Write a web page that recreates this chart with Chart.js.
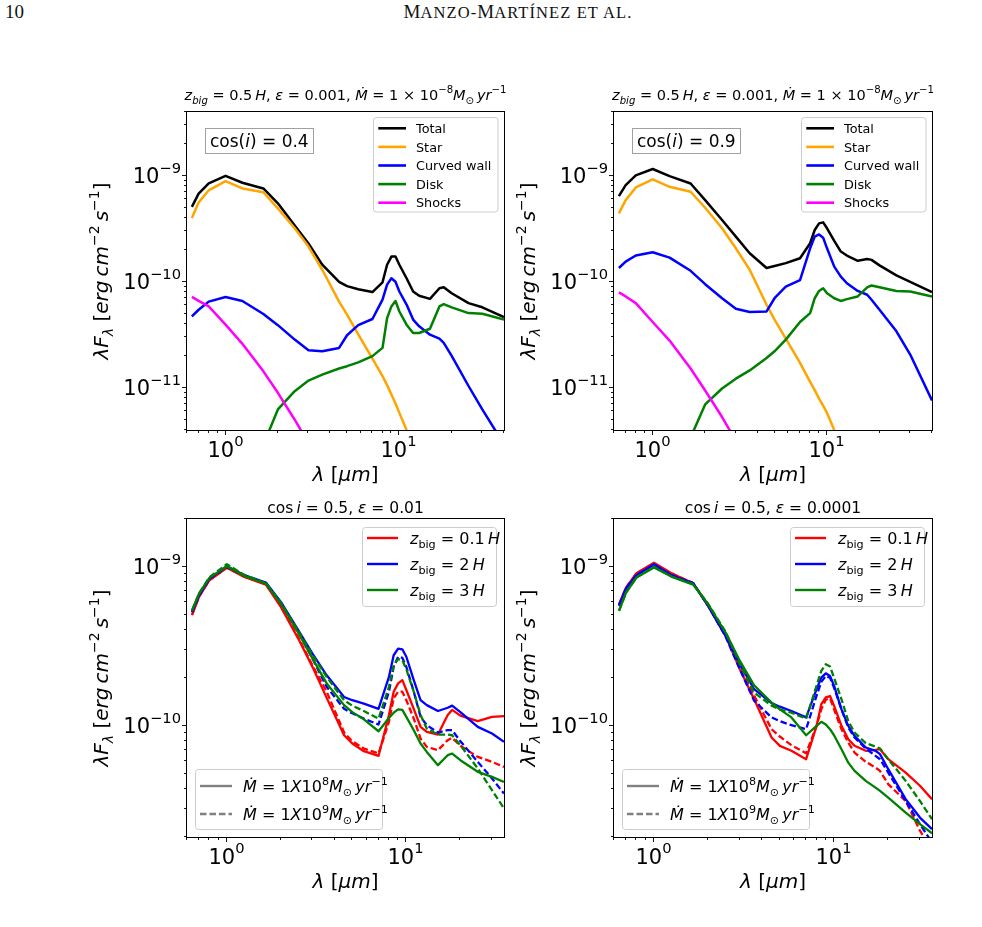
<!doctype html>
<html>
<head>
<meta charset="utf-8">
<script src="https://cdn.jsdelivr.net/npm/chart.js@4.4.1/dist/chart.umd.min.js"></script>
<style>
  body { margin: 0; background: #fff; width: 982px; height: 927px; position: relative; overflow: hidden; }
  canvas { position: absolute; }
  .hdr { position: absolute; top: 1px; font-family: "Liberation Serif", "DejaVu Serif", serif; font-size: 19px; color: #111; }
  .sc { font-size: 16.5px; letter-spacing: 1.1px; }
</style>
</head>
<body>
<div class="hdr" style="left:5px">10</div>
<div class="hdr" style="left:0;width:1036px;text-align:center">M<span class="sc">ANZO-</span>M<span class="sc">ARTÍNEZ ET AL.</span></div>
<canvas id="tl"></canvas>
<canvas id="tr"></canvas>
<canvas id="bl"></canvas>
<canvas id="br"></canvas>
<script>
// wavelengths (micron)
const lamTop = [0.64, 0.7, 0.8, 1.0, 1.25, 1.65, 2.0, 2.5, 3.0, 3.6, 4.5, 5.0, 5.8, 7.0, 8.0, 8.5, 9.0, 9.5, 10, 11, 12, 13, 15, 17, 18, 20, 25, 30, 40];
const lamBot = [0.64, 0.7, 0.8, 1.0, 1.25, 1.65, 2.0, 2.5, 3.0, 3.6, 4.5, 5.0, 5.8, 7.0, 8.0, 8.5, 9.0, 9.5, 10, 11, 12, 13, 15, 17, 18, 20, 25, 30, 35];

// top left, cos(i)=0.4
const tlTotal = [5.1e-10, 6.8e-10, 8.5e-10, 1.0e-9, 8.6e-10, 7.6e-10, 5.5e-10, 3.4e-10, 2.3e-10, 1.45e-10, 1.0e-10, 9.1e-11, 8.5e-11, 8.0e-11, 9.9e-11, 1.45e-10, 1.73e-10, 1.73e-10, 1.45e-10, 1.08e-10, 8.1e-11, 7.4e-11, 6.9e-11, 8.7e-11, 8.9e-11, 7.8e-11, 6.3e-11, 5.75e-11, 4.65e-11];
const tlStar = [4.0e-10, 5.6e-10, 7.3e-10, 8.9e-10, 7.6e-10, 7.0e-10, 4.93e-10, 3.2e-10, 2.15e-10, 1.3e-10, 6.5e-11, 4.9e-11, 3.2e-11, 1.89e-11, 1.29e-11, 1.06e-11, 8.65e-12, 7.1e-12, 5.8e-12, 4.0e-12, 3.0e-12, 2.4e-12, 1.5e-12, 1.0e-12, 8.5e-13, 6.5e-13, 3.5e-13, 2.0e-13, 8e-14];
const tlWall = [4.72e-11, 5.45e-11, 6.5e-11, 7.2e-11, 6.6e-11, 4.97e-11, 3.9e-11, 2.85e-11, 2.26e-11, 2.21e-11, 2.38e-11, 3.13e-11, 3.9e-11, 4.46e-11, 6.8e-11, 9.4e-11, 1.08e-10, 1.0e-10, 8.1e-11, 6.1e-11, 4.4e-11, 3.8e-11, 3.17e-11, 2.91e-11, 2.65e-11, 2.0e-11, 1.04e-11, 6.25e-12, 2.93e-12];
const tlDisk = [null, null, null, null, null, 2.9e-12, 6.25e-12, 9.3e-12, 1.17e-11, 1.33e-11, 1.52e-11, 1.6e-11, 1.74e-11, 1.99e-11, 2.38e-11, 4.55e-11, 5.86e-11, 6.6e-11, 5.25e-11, 3.94e-11, 3.29e-11, 3.29e-11, 3.61e-11, 5.86e-11, 6.16e-11, 5.74e-11, 5.07e-11, 5.0e-11, 4.4e-11];
const tlShocks = [7.2e-11, 6.6e-11, 5.86e-11, 3.94e-11, 2.6e-11, 1.43e-11, 8.97e-12, 5.0e-12, 3.0e-12, 1.6e-12];

// top right, cos(i)=0.9
const trTotal = [6.44e-10, 8.17e-10, 1.01e-9, 1.16e-9, 9.93e-10, 8.47e-10, 5.9e-10, 3.83e-10, 2.67e-10, 1.86e-10, 1.35e-10, 1.41e-10, 1.5e-10, 1.67e-10, 2.31e-10, 3.08e-10, 3.56e-10, 3.64e-10, 3.2e-10, 2.43e-10, 1.93e-10, 1.77e-10, 1.58e-10, 1.64e-10, 1.61e-10, 1.43e-10, 1.15e-10, 1.0e-10, 8.0e-11];
const trStar = [4.42e-10, 5.9e-10, 7.77e-10, 9.24e-10, 7.88e-10, 7.07e-10, 5.0e-10, 3.2e-10, 2.07e-10, 1.3e-10, 6.08e-11, 4.4e-11, 2.91e-11, 1.72e-11, 1.14e-11, 9.5e-12, 7.9e-12, 6.8e-12, 5.8e-12, 4.0e-12, 3.0e-12, 2.4e-12, 1.5e-12, 1.0e-12, 8.5e-13, 6.5e-13, 3.5e-13, 2.0e-13, 8e-14];
const trWall = [1.35e-10, 1.55e-10, 1.77e-10, 1.9e-10, 1.69e-10, 1.27e-10, 9.5e-11, 7.0e-11, 5.57e-11, 5.19e-11, 5.26e-11, 7.0e-11, 9.0e-11, 1.04e-10, 2.07e-10, 2.67e-10, 2.8e-10, 2.61e-10, 2.07e-10, 1.39e-10, 1.12e-10, 9.7e-11, 8.2e-11, 7.55e-11, 6.78e-11, 5.46e-11, 3.41e-11, 2.06e-11, 7.6e-12];
const trDisk = [null, null, null, null, null, 3.4e-12, 6.97e-12, 9.86e-12, 1.22e-11, 1.46e-11, 1.91e-11, 2.21e-11, 2.85e-11, 4.18e-11, 5.07e-11, 7.0e-11, 8.2e-11, 8.7e-11, 7.8e-11, 7.0e-11, 6.6e-11, 6.87e-11, 7.28e-11, 8.85e-11, 9.25e-11, 8.9e-11, 8.2e-11, 8.1e-11, 7.28e-11];
const trShocks = [7.94e-11, 7.28e-11, 6.3e-11, 4.18e-11, 2.79e-11, 1.52e-11, 9.44e-12, 5.3e-12, 3.16e-12, 1.7e-12];

// bottom left, eps=0.01 (a = Mdot 1e-8, b = Mdot 1e-9)
const blRedA = [4.97e-10, 6.47e-10, 8.24e-10, 9.86e-10, 8.65e-10, 7.74e-10, 5.6e-10, 3.54e-10, 2.35e-10, 1.5e-10, 8.73e-11, 7.74e-11, 6.93e-11, 6.47e-11, 1.17e-10, 1.64e-10, 1.85e-10, 1.94e-10, 1.68e-10, 1.28e-10, 9.87e-11, 9.17e-11, 8.82e-11, 1.17e-10, 1.26e-10, 1.16e-10, 1.07e-10, 1.14e-10, 1.15e-10];
const blRedB = [5.0e-10, 6.5e-10, 8.3e-10, 9.9e-10, 8.7e-10, 7.8e-10, 5.65e-10, 3.6e-10, 2.4e-10, 1.64e-10, 9.08e-11, 8.01e-11, 7.2e-11, 6.7e-11, 1.06e-10, 1.49e-10, 1.64e-10, 1.64e-10, 1.45e-10, 1.11e-10, 8.32e-11, 7.38e-11, 7.03e-11, 8.13e-11, 8.41e-11, 7.49e-11, 6.38e-11, 5.94e-11, 5.52e-11];
const blBlueA = [5.21e-10, 6.64e-10, 8.45e-10, 1.01e-9, 8.87e-10, 7.97e-10, 6.02e-10, 4.0e-10, 2.85e-10, 2.08e-10, 1.52e-10, 1.45e-10, 1.38e-10, 1.28e-10, 2.03e-10, 2.78e-10, 3.06e-10, 3.03e-10, 2.72e-10, 1.94e-10, 1.45e-10, 1.35e-10, 1.24e-10, 1.3e-10, 1.34e-10, 1.22e-10, 9.86e-11, 8.95e-11, 7.94e-11];
const blBlueB = [5.2e-10, 6.6e-10, 8.4e-10, 1.0e-9, 8.8e-10, 7.9e-10, 5.9e-10, 3.9e-10, 2.65e-10, 1.76e-10, 1.28e-10, 1.2e-10, 1.11e-10, 1.02e-10, 1.64e-10, 2.35e-10, 2.72e-10, 2.68e-10, 2.35e-10, 1.64e-10, 1.14e-10, 1.01e-10, 9.08e-11, 9.39e-11, 9.39e-11, 8.01e-11, 5.94e-11, 4.67e-11, 3.75e-11];
const blGreenA = [5.34e-10, 6.79e-10, 8.53e-10, 1.01e-9, 8.78e-10, 7.85e-10, 5.88e-10, 3.86e-10, 2.65e-10, 1.85e-10, 1.35e-10, 1.22e-10, 1.1e-10, 9.25e-11, 1.12e-10, 1.21e-10, 1.27e-10, 1.26e-10, 1.14e-10, 9.39e-11, 7.74e-11, 6.86e-11, 5.66e-11, 6.54e-11, 6.7e-11, 6.08e-11, 5.14e-11, 4.78e-11, 4.44e-11];
const blGreenB = [5.3e-10, 6.8e-10, 8.6e-10, 1.04e-9, 8.9e-10, 7.9e-10, 5.95e-10, 3.95e-10, 2.8e-10, 2.03e-10, 1.45e-10, 1.34e-10, 1.24e-10, 1.11e-10, 1.76e-10, 2.41e-10, 2.63e-10, 2.59e-10, 2.27e-10, 1.64e-10, 1.17e-10, 9.62e-11, 8.82e-11, 8.82e-11, 8.73e-11, 7.55e-11, 5.4e-11, 3.94e-11, 3.02e-11];

// bottom right, eps=0.0001
const brRedA = [5.82e-10, 7.41e-10, 9.12e-10, 1.06e-9, 9.12e-10, 7.89e-10, 5.69e-10, 3.68e-10, 2.27e-10, 1.47e-10, 8.45e-11, 7.49e-11, 6.97e-11, 6.17e-11, 1.0e-10, 1.37e-10, 1.51e-10, 1.54e-10, 1.34e-10, 1.0e-10, 8.24e-11, 7.49e-11, 6.97e-11, 7.06e-11, 7.13e-11, 6.17e-11, 5.08e-11, 4.2e-11, 3.46e-11];
const brRedB = [5.8e-10, 7.4e-10, 9.1e-10, 1.05e-9, 9.1e-10, 7.9e-10, 5.7e-10, 3.7e-10, 2.3e-10, 1.55e-10, 9.53e-11, 8.57e-11, 7.56e-11, 6.73e-11, 1.0e-10, 1.27e-10, 1.46e-10, 1.49e-10, 1.27e-10, 9.53e-11, 7.85e-11, 6.79e-11, 5.94e-11, 5.47e-11, 5.21e-11, 4.3e-11, 3.37e-11, 2.19e-11, 1.67e-11];
const brBlueA = [5.69e-10, 7.31e-10, 8.86e-10, 1.04e-9, 8.86e-10, 7.89e-10, 5.69e-10, 3.68e-10, 2.44e-10, 1.7e-10, 1.39e-10, 1.32e-10, 1.24e-10, 1.13e-10, 1.7e-10, 2.01e-10, 2.14e-10, 2.06e-10, 1.79e-10, 1.27e-10, 1.0e-10, 8.65e-11, 7.31e-11, 6.97e-11, 6.64e-11, 5.34e-11, 3.46e-11, 2.65e-11, 2.24e-11];
const brBlueB = [5.7e-10, 7.3e-10, 8.9e-10, 1.03e-9, 8.9e-10, 7.9e-10, 5.7e-10, 3.65e-10, 2.27e-10, 1.44e-10, 1.13e-10, 1.07e-10, 1.01e-10, 9.53e-11, 1.55e-10, 1.89e-10, 2.06e-10, 2.01e-10, 1.74e-10, 1.27e-10, 9.77e-11, 8.45e-11, 7.2e-11, 6.47e-11, 6.17e-11, 5.08e-11, 3.37e-11, 2.41e-11, 1.85e-11];
const brGreenA = [5.29e-10, 6.9e-10, 8.57e-10, 9.9e-10, 8.69e-10, 7.74e-10, 5.82e-10, 3.86e-10, 2.56e-10, 1.8e-10, 1.4e-10, 1.27e-10, 1.13e-10, 8.73e-11, 1.0e-10, 1.06e-10, 1.02e-10, 9.53e-11, 8.73e-11, 7.13e-11, 5.87e-11, 5.21e-11, 4.51e-11, 4.09e-11, 3.9e-11, 3.54e-11, 2.85e-11, 2.41e-11, 2.11e-11];
const brGreenB = [5.3e-10, 6.9e-10, 8.6e-10, 1.0e-9, 8.7e-10, 7.8e-10, 5.85e-10, 3.9e-10, 2.44e-10, 1.62e-10, 1.34e-10, 1.27e-10, 1.21e-10, 1.11e-10, 1.79e-10, 2.22e-10, 2.44e-10, 2.36e-10, 2.01e-10, 1.47e-10, 1.07e-10, 9.08e-11, 7.78e-11, 7.41e-11, 7.2e-11, 6.17e-11, 4.51e-11, 3.37e-11, 2.59e-11];

const compNames = ['Total', 'Star', 'Curved wall', 'Disk', 'Shocks'];
const compColors = ['#000000', '#ffa500', '#0000ff', '#008000', '#ff00ff'];
const zbigVals = ['0.1', '2', '3'];
const zbigColors = ['#ff0000', '#0000ff', '#008000'];
const mdotExp = ['8', '9'];

const FAM = '"DejaVu Sans", sans-serif';
const DASH = [6.5, 3];

// draw a run of text pieces: [text, style]; style: i = italic, ^ = sup, _ = sub
function rich(ctx, parts, x, y, size, align, raise) {
  raise = raise || 0.45;
  const items = parts.map(([t, st = '']) => {
    const small = st.includes('^') || st.includes('_');
    const fs = small ? size * 0.7 : size;
    const font = (st.includes('i') ? 'italic ' : '') + fs + 'px ' + FAM;
    ctx.font = font;
    const dy = st.includes('^') ? -size * raise : st.includes('_') ? size * 0.25 : 0;
    return { t, font, dy, w: ctx.measureText(t).width };
  });
  const tw = items.reduce((s, it) => s + it.w, 0);
  let cx = align === 'center' ? x - tw / 2 : align === 'right' ? x - tw : x;
  ctx.textAlign = 'left';
  ctx.textBaseline = 'alphabetic';
  for (const it of items) {
    ctx.font = it.font;
    ctx.fillText(it.t, cx, y + it.dy);
    cx += it.w;
  }
  return tw;
}

function logTicks(min, max) {
  const out = [];
  for (let e = Math.floor(Math.log10(min)); e <= Math.ceil(Math.log10(max)); e++) {
    for (let m = 1; m <= 9; m++) {
      const v = m * Math.pow(10, e);
      if (v >= min * 0.999999 && v <= max * 1.000001) out.push({ v, e, major: m === 1 });
    }
  }
  return out;
}

function pow10(ctx, e, x, y, align) {
  rich(ctx, [['10'], [(e < 0 ? '\u2212' : '') + Math.abs(e), '^']], x, y, 21, align, 0.5);
}

function legendFrame(ctx, x0, y0, w, h) {
  ctx.save();
  ctx.beginPath();
  ctx.roundRect(x0 + 0.5, y0 + 0.5, w, h, 3);
  ctx.fillStyle = 'rgba(255,255,255,0.8)';
  ctx.fill();
  ctx.strokeStyle = '#cccccc';
  ctx.lineWidth = 1;
  ctx.stroke();
  ctx.restore();
}

function sample(ctx, x1, x2, y, color, dash, lw) {
  ctx.save();
  ctx.strokeStyle = color;
  ctx.lineWidth = lw;
  ctx.setLineDash(dash || []);
  ctx.beginPath();
  ctx.moveTo(x1, y);
  ctx.lineTo(x2, y);
  ctx.stroke();
  ctx.restore();
}

const yTitle = [['\u03bb', 'i'], ['F', 'i'], ['\u03bb', 'i_'], [' ['], ['erg', 'i'], ['\u2009'], ['cm', 'i'], ['\u22122', '^'], ['\u2009s', 'i'], ['\u22121', '^'], [']']];
const xTitle = [['\u03bb', 'i'], [' ['], ['\u03bcm', 'i'], [']']];
const topTitle = [['z', 'i'], ['big', 'i_'], [' = 0.5\u2009'], ['H', 'i'], [', '], ['\u03b5', 'i'], [' = 0.001, '], ['\u1e40', 'i'], [' = 1 \u00d7 10'], ['\u22128', '^'], ['M', 'i'], ['\u2299', '_'], ['\u2009'], ['yr', 'i'], ['\u22121', '^']];

function decoPlugin(p) {
  return {
    id: 'deco',
    afterDraw(chart) {
      const { ctx, chartArea: a } = chart;
      const xs = chart.scales.x, ys = chart.scales.y;
      const L = Math.round(a.left), R = Math.round(a.right), T = Math.round(a.top), B = Math.round(a.bottom);
      ctx.save();
      ctx.fillStyle = '#000';
      ctx.strokeStyle = '#000';

      // legends first (they sit above the data, below the frame)
      if (p.kind === 'top') {
        legendFrame(ctx, R - 131, T + 5, 124.5, 94.5);
        compNames.forEach((n, i) => {
          const yy = T + 16.3 + i * 18.6;
          sample(ctx, R - 125.7, R - 98, yy, compColors[i], null, 2.6);
          rich(ctx, [[n]], R - 88, yy + 4.7, 12.8, 'left');
        });
        ctx.save();
        ctx.fillStyle = '#fff';
        ctx.fillRect(L + 18.5, T + 16.5, 108, 25);
        ctx.strokeStyle = '#a0a0a0';
        ctx.lineWidth = 1;
        ctx.strokeRect(L + 18.5, T + 16.5, 108, 25);
        ctx.restore();
        rich(ctx, [['cos('], ['i', 'i'], [') = ' + p.cosi]], L + 23, T + 34.7, 17, 'left');
        rich(ctx, topTitle, (L + R) / 2, T - 12, 14.5, 'center');
      } else {
        legendFrame(ctx, R - 142, T + 8, 134, 79);
        zbigVals.forEach((v, i) => {
          const yy = T + 19 + i * 26;
          sample(ctx, R - 137, R - 106, yy, zbigColors[i], null, 2.4);
          rich(ctx, [['z', 'i'], ['big', '_'], [' = ' + v + '\u2009'], ['H', 'i']], R - 94, yy + 5.8, 16, 'left');
        });
        legendFrame(ctx, L + 8, B - 68, 187, 60);
        mdotExp.forEach((ex, i) => {
          const yy = B - 51 + i * 28;
          sample(ctx, L + 13, L + 45, yy, '#808080', i ? DASH : null, 2.4);
          rich(ctx, [['\u1e40', 'i'], [' = 1'], ['X', 'i'], ['10'], [ex, '^'], ['M', 'i'], ['\u2299', '_'], ['\u2009'], ['yr', 'i'], ['\u22121', '^']], L + 56, yy + 5.8, 16, 'left');
        });
        rich(ctx, [['cos\u2009'], ['i', 'i'], [' = 0.5, '], ['\u03b5', 'i'], [' = ' + p.eps]], (L + R) / 2, T - 6, 15.5, 'center');
      }

      // frame
      ctx.lineWidth = 1;
      ctx.strokeStyle = '#000';
      ctx.strokeRect(L - 0.5, T - 0.5, R - L + 1, B - T + 1);

      // ticks and tick labels
      ctx.beginPath();
      for (const t of logTicks(p.xmin, p.xmax)) {
        const px = Math.round(xs.getPixelForValue(t.v)) - 0.5;
        ctx.moveTo(px, B + 0.5);
        ctx.lineTo(px, B + (t.major ? 5 : 3));
        if (t.major) pow10(ctx, t.e, px, B + 26.5, 'center');
      }
      for (const t of logTicks(p.ymin, p.ymax)) {
        const py = Math.round(ys.getPixelForValue(t.v)) - 0.5;
        ctx.moveTo(L - 0.5, py);
        ctx.lineTo(L - (t.major ? 5 : 3), py);
        if (t.major) pow10(ctx, t.e, L - 6, py + 7.6, 'right');
      }
      ctx.lineWidth = 0.9;
      ctx.stroke();

      // axis titles
      rich(ctx, xTitle, (L + R) / 2, B + 51, 20, 'center');
      ctx.save();
      ctx.translate(L - 79, (T + B) / 2);
      ctx.rotate(-Math.PI / 2);
      rich(ctx, yTitle, 0, 0, 20, 'center');
      ctx.restore();
      ctx.restore();
    }
  };
}

function line(lam, vals, color, dash, lw, idx) {
  return {
    data: lam.map((x, i) => ({ x, y: vals[i] ?? null })),
    borderColor: color, borderWidth: lw, borderDash: dash || [],
    borderJoinStyle: 'round', pointRadius: 0, tension: 0, fill: false,
    spanGaps: false, clip: 0, order: -idx
  };
}

function panel(id, box, p, datasets) {
  const padL = 100, padT = 36, padR = 16, padB = 60;
  const cv = document.getElementById(id);
  const w = box.r - box.l + padL + padR, h = box.b - box.t + padT + padB;
  cv.style.left = (box.l - padL) + 'px';
  cv.style.top = (box.t - padT) + 'px';
  cv.style.width = w + 'px';
  cv.style.height = h + 'px';
  cv.width = w;
  cv.height = h;
  new Chart(cv, {
    type: 'line',
    data: { datasets },
    options: {
      responsive: false,
      animation: false,
      events: [],
      layout: { padding: { left: 0, top: padT, right: padR, bottom: 0 } },
      plugins: { legend: { display: false }, tooltip: { enabled: false }, title: { display: false } },
      scales: {
        x: {
          type: 'logarithmic', min: p.xmin, max: p.xmax,
          ticks: { display: false }, grid: { display: false }, border: { display: false },
          afterFit: (s) => { s.height = padB; }
        },
        y: {
          type: 'logarithmic', min: p.ymin, max: p.ymax,
          ticks: { display: false }, grid: { display: false }, border: { display: false },
          afterFit: (s) => { s.width = padL; }
        }
      }
    },
    plugins: [decoPlugin(p)]
  });
}

function topSets(vals) {
  return vals.map((v, i) => line(lamTop, v, compColors[i], null, 2.5, i));
}
function botSets(pairs) {
  const out = [];
  pairs.forEach(([a, b], i) => {
    out.push(line(lamBot, a, zbigColors[i], null, 2.3, out.length));
    out.push(line(lamBot, b, zbigColors[i], DASH, 2.3, out.length));
  });
  return out;
}

const topRange = { xmin: 0.6, xmax: 40, ymin: 4e-12, ymax: 4e-9, kind: 'top' };
const botRange = { xmin: 0.6, xmax: 35, ymin: 2e-11, ymax: 2e-9, kind: 'bot' };

panel('tl', { l: 187, r: 504, t: 112, b: 430 }, { ...topRange, cosi: '0.4' },
  topSets([tlTotal, tlStar, tlWall, tlDisk, tlShocks]));
panel('tr', { l: 614, r: 932, t: 112, b: 430 }, { ...topRange, cosi: '0.9' },
  topSets([trTotal, trStar, trWall, trDisk, trShocks]));
panel('bl', { l: 187, r: 504, t: 519, b: 837 }, { ...botRange, eps: '0.01' },
  botSets([[blRedA, blRedB], [blBlueA, blBlueB], [blGreenA, blGreenB]]));
panel('br', { l: 614, r: 932, t: 519, b: 837 }, { ...botRange, eps: '0.0001' },
  botSets([[brRedA, brRedB], [brBlueA, brBlueB], [brGreenA, brGreenB]]));
</script>
</body>
</html>
